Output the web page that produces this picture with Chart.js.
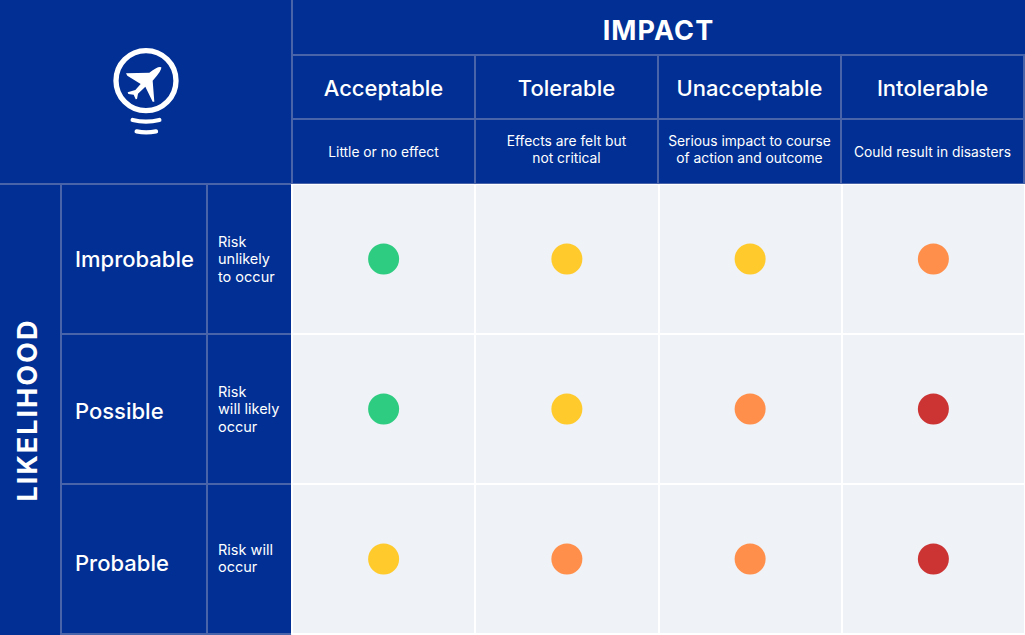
<!DOCTYPE html>
<html>
<head>
<meta charset="utf-8">
<script src="https://cdn.jsdelivr.net/npm/chart.js@4"></script>
<style>
  html, body { margin: 0; padding: 0; background: #fff; }
  #page { position: relative; width: 1025px; height: 635px; overflow: hidden; background: #012f94; font-family: Inter, sans-serif; color: #fff; }
  #page canvas { position: absolute; left: 291px; top: 184px; }
  .line { position: absolute; background: #4a64a9; }
  .cell { position: absolute; display: flex; align-items: center; }
  .center { justify-content: center; text-align: center; }
  .title { font-size: 27px; font-weight: 700; letter-spacing: 1.1px; }
  .head { font-size: 22px; font-weight: 500; }
  .note { font-size: 13.8px; line-height: 17px; box-sizing: border-box; }
  .rowhead { font-size: 22px; font-weight: 500; }
  .rownote { font-size: 14.5px; line-height: 17.5px; }
  #likelihood { position: absolute; left: -72px; top: 390px; width: 200px; height: 40px; line-height: 40px; text-align: center; transform: rotate(-90deg); letter-spacing: 2px; }
  #icon { position: absolute; left: 90px; top: 30px; }
</style>
</head>
<body>
<div id="page">
  <canvas id="risk-chart" width="734" height="451"></canvas>
  <svg id="icon" width="120" height="120" viewBox="0 0 360 360">
    <circle cx="168" cy="152" r="90" fill="none" stroke="#fff" stroke-width="16"/>
    <path d="M128 270 Q168 280 208 270" fill="none" stroke="#fff" stroke-width="13" stroke-linecap="round"/>
    <path d="M140 304 Q168 310 198 304" fill="none" stroke="#fff" stroke-width="13" stroke-linecap="round"/>
    <path d="M214 112 Q206 106 178 128 L108 130 L112 137 L152 162 L136 180 L113 187 L115 192 L131 194 L137 208 L141 207 L144 191 L166 170 L188 215 L193 215 L188 152 Q216 122 214 112 Z" fill="#fff"/>
  </svg>
  <div id="likelihood" class="title">LIKELIHOOD</div>
</div>

<script>
// ---- chart data ----
const impactLabels     = ["Acceptable", "Tolerable", "Unacceptable", "Intolerable"];
const impactNotes      = ["Little or no effect", "Effects are felt but<br>not critical", "Serious impact to course<br>of action and outcome", "Could result in disasters"];
const likelihoodLabels = ["Improbable", "Possible", "Probable"];
const likelihoodNotes  = ["Risk<br>unlikely<br>to occur", "Risk<br>will likely<br>occur", "Risk will<br>occur"];

// risk level per likelihood row, one value for each impact column
const improbableRisk = [0, 1, 1, 2];
const possibleRisk   = [0, 1, 2, 3];
const probableRisk   = [1, 2, 2, 3];
const riskRows       = [improbableRisk, possibleRisk, probableRisk];
const riskColors     = ["#2ecc80", "#ffca2b", "#ff8f4a", "#cc3333"];

// ---- header cells (plain DOM around the canvas) ----
const page = document.getElementById("page");

function addLine(x, y, w, h) {
  const el = document.createElement("div");
  el.className = "line";
  el.style.cssText = `left:${x}px;top:${y}px;width:${w}px;height:${h}px`;
  page.appendChild(el);
}
function addCell(x, y, w, h, cls, html) {
  const el = document.createElement("div");
  el.className = "cell " + cls;
  el.style.cssText = `left:${x}px;top:${y}px;width:${w}px;height:${h}px`;
  el.innerHTML = html;
  page.appendChild(el);
}

const colX = [292, 475, 658, 841, 1024];
const rowY = [184, 334, 484, 634];
const noteTop = [120, 118, 118, 120];
const rowHeadShift = [0, 2, 4];
const rowNoteShift = [0, 0, -1];

addCell(292, 3, 733, 55, "center title", "IMPACT");
impactLabels.forEach((name, i) => {
  addCell(colX[i], 56, 183, 63, "center head", name);
  addCell(colX[i], noteTop[i], 183, 64, "center note", impactNotes[i]);
});
likelihoodLabels.forEach((name, i) => {
  addCell(75, rowY[i] + rowHeadShift[i], 130, 150, "rowhead", name);
  addCell(218, rowY[i] + rowNoteShift[i], 72, 150, "rownote", likelihoodNotes[i]);
});

// ---- rules ----
addLine(291, 0, 2, 184);
addLine(292, 54, 733, 2);
addLine(292, 118, 733, 2);
addLine(0, 183, 291, 2);
addLine(291, 183, 734, 1);
colX.forEach(x => addLine(x - 1, 55, 2, 129));
addLine(60, 184, 2, 451);
addLine(206, 184, 2, 451);
rowY.slice(1).forEach(y => addLine(61, y - 1, 230, 2));

// ---- chart ----
const points = riskColors.map((color, level) => ({
  label: "Risk " + level,
  backgroundColor: color,
  borderWidth: 0,
  pointRadius: 15.5,
  pointHoverRadius: 15.5,
  data: riskRows.flatMap((row, r) =>
    row.flatMap((v, c) => v === level ? [{ x: impactLabels[c], y: likelihoodLabels[r] }] : []))
}));

// light panel behind the cells, fills the whole canvas
const panelBg = {
  id: "panelBg",
  beforeDraw(chart) {
    const { ctx, width, height } = chart;
    ctx.save();
    ctx.fillStyle = "#eff2f7";
    ctx.fillRect(0, 0, width, height);
    ctx.restore();
  }
};

new Chart(document.getElementById("risk-chart"), {
  type: "scatter",
  data: { datasets: points },
  plugins: [panelBg],
  options: {
    responsive: false,
    animation: false,
    layout: { padding: { left: 1, bottom: 1 }, autoPadding: false },
    plugins: { legend: { display: false }, tooltip: { enabled: false } },
    scales: {
      x: {
        type: "category", labels: impactLabels, offset: true,
        grid: { color: "#fff", lineWidth: 2, offset: true, drawTicks: false },
        border: { display: false },
        ticks: { display: false }
      },
      y: {
        type: "category", labels: likelihoodLabels, offset: true,
        grid: { color: "#fff", lineWidth: 2, offset: true, drawTicks: false },
        border: { display: false },
        ticks: { display: false }
      }
    }
  }
});
</script>
</body>
</html>
